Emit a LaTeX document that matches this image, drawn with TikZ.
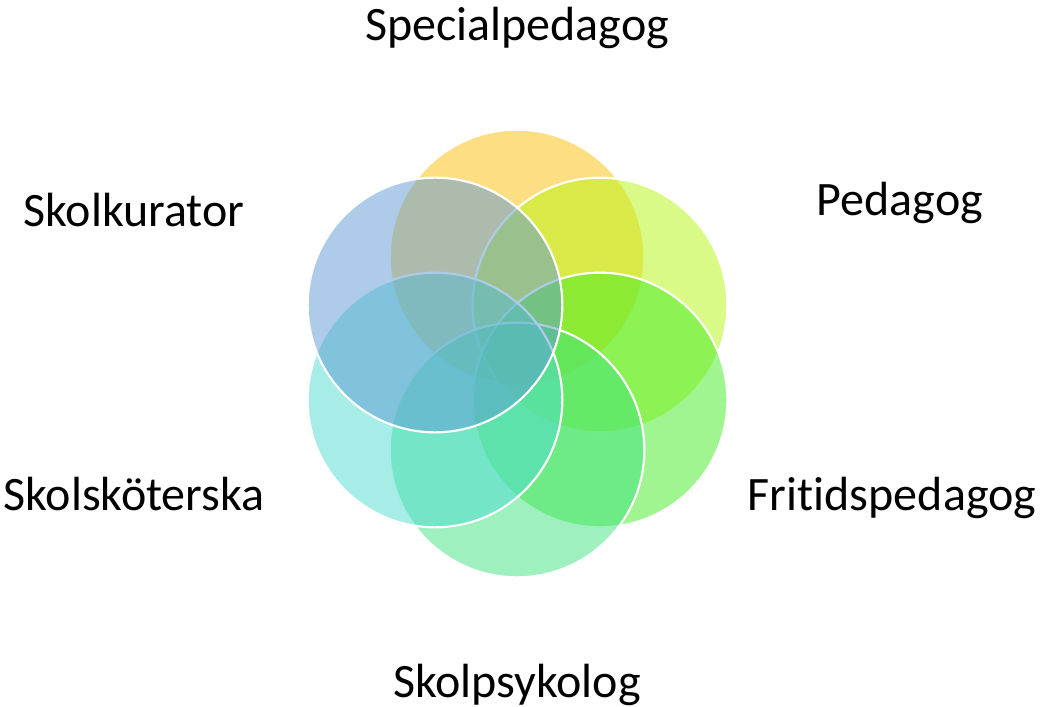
\documentclass[tikz,border=0pt]{standalone}
\usepackage{fontspec}
\setmainfont[Ligatures=NoCommon]{Carlito}
\definecolor{cSpec}{RGB}{251,189,8}
\definecolor{cPed}{RGB}{181,245,15}
\definecolor{cFrit}{RGB}{65,235,35}
\definecolor{cPsyk}{RGB}{63,225,127}
\definecolor{cSjuk}{RGB}{77,219,209}
\definecolor{cKur}{RGB}{93,153,211}
\begin{document}
\begin{tikzpicture}[x=0.75pt,y=-0.75pt,
		petal/.style={circle,draw=white,line width=1.6pt,
		fill opacity=0.5,inner sep=0pt,minimum size=191pt},
		role/.style={anchor=base,font=\fontsize{36}{40}\selectfont}]

		\useasboundingbox (0,0) rectangle (1043,707);

		\node[petal,fill=cSpec] (spec) at (517,257) {};
		\node[petal,fill=cPed] (ped) at (600,305) {};
		\node[petal,fill=cFrit] (frit) at (600,400) {};
		\node[petal,fill=cPsyk] (psyk) at (517,450) {};
		\node[petal,fill=cSjuk] (sjuk) at (435,400) {};
		\node[petal,fill=cKur] (kur) at (435,305) {};

		\node[role] (specL) at (517,40) {Specialpedagog};
		\node[role] (pedL) at (900,215) {Pedagog};
		\node[role] (kurL) at (134,226) {Skolkurator};
		\node[role,anchor=base east] (fritL) at (1041,510) {Fritidspedagog};
		\node[role] (sjukL) at (134,510) {Skolsköterska};
		\node[role] (psykL) at (517,697) {Skolpsykolog};

\end{tikzpicture}
\end{document}
